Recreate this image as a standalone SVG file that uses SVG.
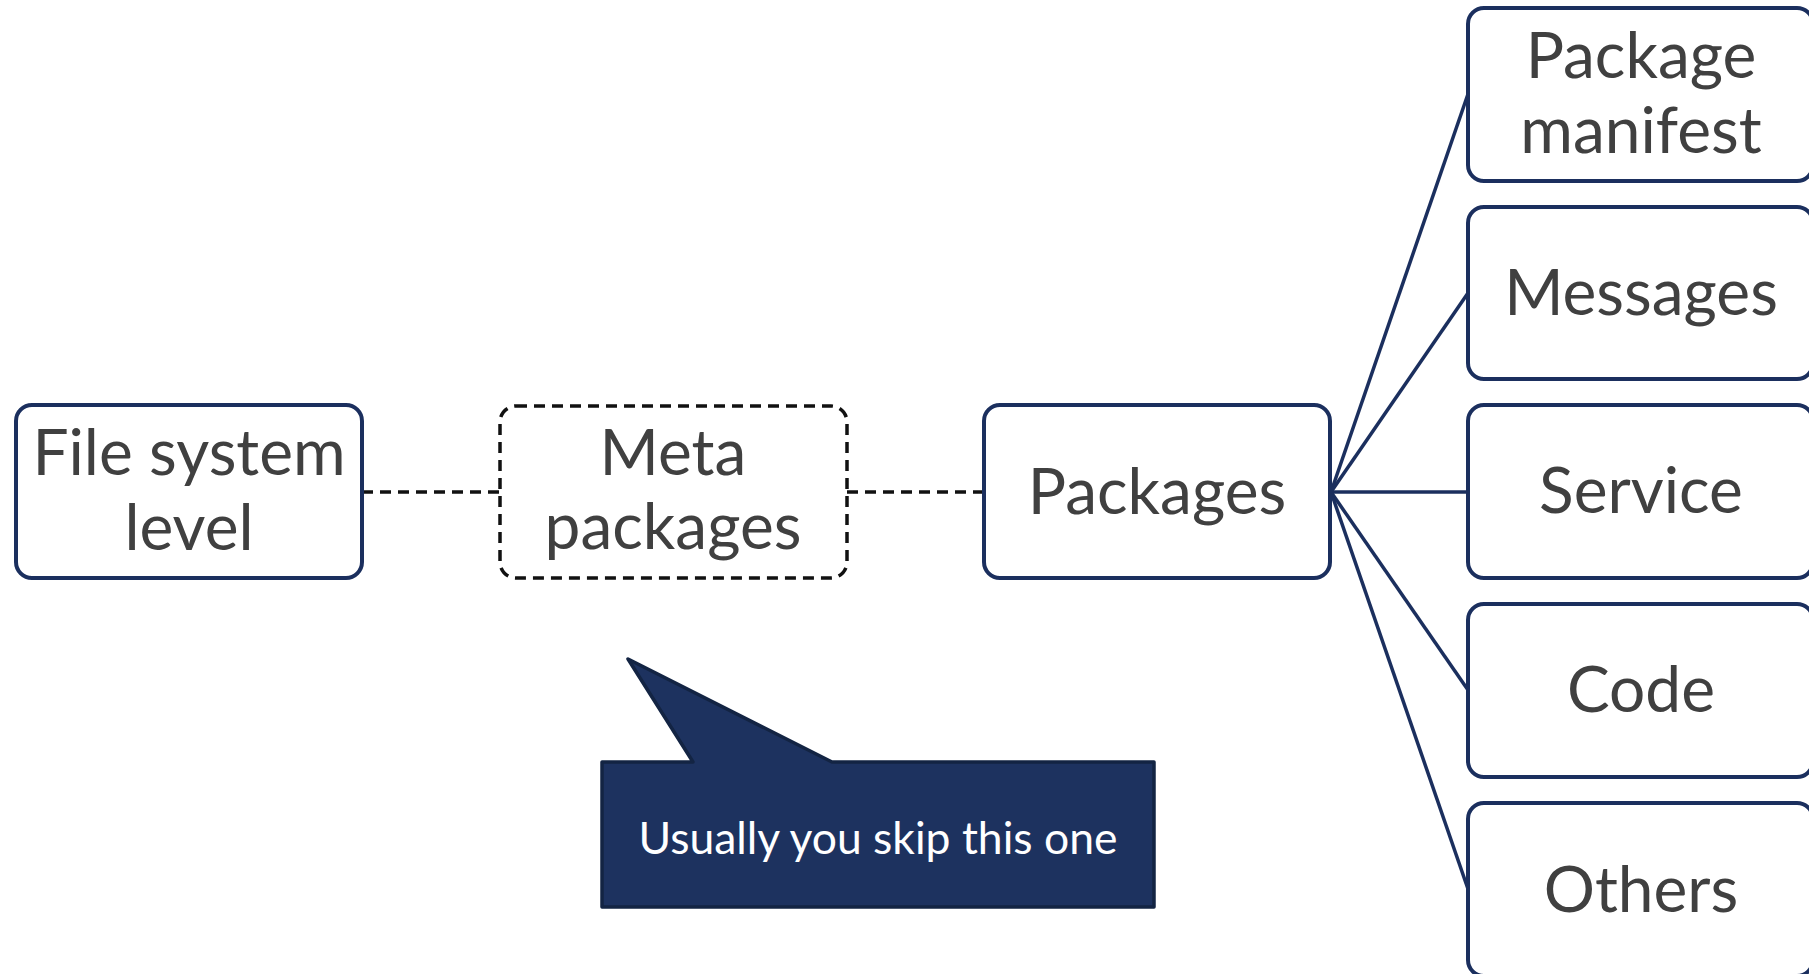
<svg xmlns="http://www.w3.org/2000/svg" width="1809" height="974" viewBox="0 0 1809 974">
<style>
.box{fill:#fff;stroke:#1B2F5E;stroke-width:4}
.dash{fill:#fff;stroke:#111;stroke-width:3.5;stroke-dasharray:11 7}
.t{font-family:Lato,"Liberation Sans",sans-serif;font-size:64px;fill:#404040;text-anchor:middle}
.c{stroke:#1B2F5E;stroke-width:3.5;fill:none}
.d{stroke:#111;stroke-width:3.5;stroke-dasharray:11 7;fill:none}
</style>
<rect width="1809" height="974" fill="#fff"/>
<g id="connectors">
<line class="d" x1="362" y1="492" x2="500" y2="492"/>
<line class="d" x1="847" y1="492" x2="984" y2="492"/>
<line class="c" x1="1331" y1="492" x2="1468" y2="94"/>
<line class="c" x1="1331" y1="492" x2="1468" y2="293"/>
<line class="c" x1="1331" y1="492" x2="1468" y2="492"/>
<line class="c" x1="1331" y1="492" x2="1468" y2="690"/>
<line class="c" x1="1331" y1="492" x2="1468" y2="889"/>
</g>
<g id="filesystem">
<rect class="box" x="16" y="405" width="346" height="173" rx="16"/>
<text class="t" x="189" y="475">File system</text>
<text class="t" x="189" y="550">level</text>
</g>
<g id="meta">
<rect class="dash" x="500" y="406" width="347" height="172" rx="16"/>
<text class="t" x="673" y="475">Meta</text>
<text class="t" x="673" y="549">packages</text>
</g>
<g id="packages">
<rect class="box" x="984" y="405" width="346" height="173" rx="16"/>
<text class="t" x="1157" y="514">Packages</text>
</g>
<g id="manifest">
<rect class="box" x="1468" y="8" width="345" height="173" rx="16"/>
<text class="t" x="1641" y="78">Package</text>
<text class="t" x="1641" y="153">manifest</text>
</g>
<g id="messages">
<rect class="box" x="1468" y="207" width="345" height="172" rx="16"/>
<text class="t" x="1641" y="315">Messages</text>
</g>
<g id="service">
<rect class="box" x="1468" y="405" width="345" height="173" rx="16"/>
<text class="t" x="1641" y="513">Service</text>
</g>
<g id="code">
<rect class="box" x="1468" y="604" width="345" height="173" rx="16"/>
<text class="t" x="1641" y="712">Code</text>
</g>
<g id="others">
<rect class="box" x="1468" y="803" width="345" height="173" rx="16"/>
<text class="t" x="1641" y="912">Others</text>
</g>
<g id="callout">
<path d="M602 762 H693 L628 659 L832 762 H1154 V907 H602 Z" fill="#1D325F" stroke="#132443" stroke-width="3.5" stroke-linejoin="round"/>
<text x="878" y="854" font-family="Lato,'Liberation Sans',sans-serif" font-size="44" fill="#fff" text-anchor="middle" textLength="479" lengthAdjust="spacingAndGlyphs">Usually you skip this one</text>
</g>
</svg>
